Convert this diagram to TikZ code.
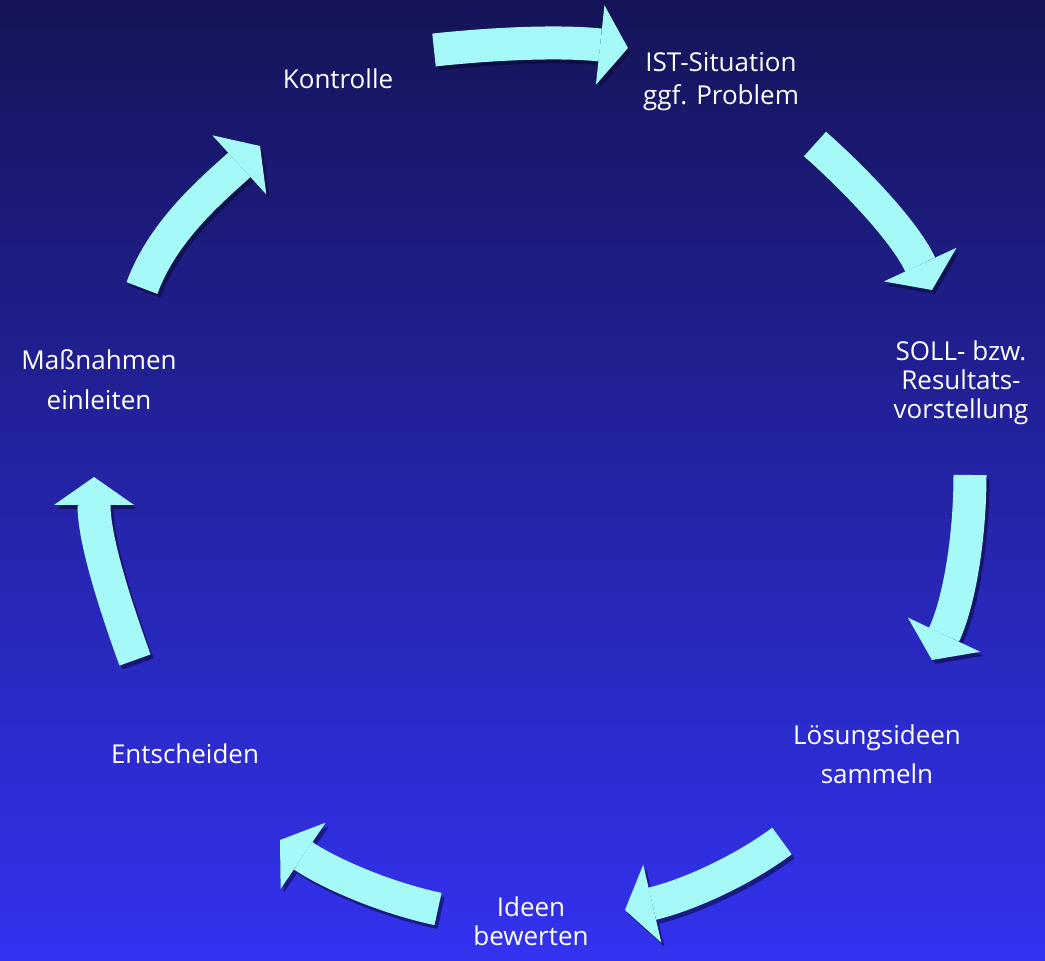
\documentclass[tikz,border=0pt]{standalone}
\usepackage{fontspec}
\setmainfont{Open Sans}
\usetikzlibrary{arrows.meta}
\definecolor{navytop}{RGB}{21,20,88}
\definecolor{bluebottom}{RGB}{51,50,240}
\definecolor{arrowcyan}{RGB}{165,250,248}
\definecolor{arrowshade}{RGB}{8,8,50}
\tikzset{
  cycarrow/.style={draw=arrowcyan, line width=16.5pt,
    -{Triangle[width=40pt,length=14pt,line width=0pt]}},
  cycshade/.style={cycarrow, draw=arrowshade, opacity=0.55},
  lbl/.style={text=white, align=center, anchor=base,
    font=\fontsize{13}{16.5}\selectfont}
}
\begin{document}
\begin{tikzpicture}[x=0.5pt, y=-0.5pt]
    \fill [top color=navytop, bottom color=bluebottom] (0, 0) rectangle (1045, 961);
    % curved block arrows of the cycle
    \foreach \i/\ta/\ca/\cb/\tp in {
      1/{434,50}/{499,43}/{563,41}/{628,48},
      2/{815,144}/{861,185}/{906,234}/{932,290},
      3/{970,475}/{970,538}/{959,603}/{932,660},
      4/{782,841}/{736,875}/{681,897}/{625,910},
      5/{438,909}/{382,897}/{327,872}/{280,840},
      6/{135,660}/{114,602}/{94,539}/{94,477},
      7/{142,288}/{163,230}/{214,188}/{260,146}}
    {
      \draw [cycshade, shift={(3, 4)}] (\ta) .. controls (\ca) and (\cb) .. (\tp);
      \draw [cycarrow] (\ta) .. controls (\ca) and (\cb) .. (\tp);
    }
    % steps (base = last line)
    \node [lbl] (kontrolle) at (338, 89) {Kontrolle};
    \node [lbl] (ist) at (721, 105) {IST-Situation\\ggf. Problem};
    \node [lbl, font=\fontsize{13}{14.5}\selectfont] (soll) at (961, 419) {SOLL- bzw.\\Resultats-\\vorstellung};
    \node [lbl, font=\fontsize{13}{19.5}\selectfont] (loesung) at (877, 784) {Lösungsideen\\sammeln};
    \node [lbl, font=\fontsize{13}{14.5}\selectfont] (ideen) at (531, 946) {Ideen\\bewerten};
    \node [lbl] (entscheiden) at (185, 764) {Entscheiden};
    \node [lbl, font=\fontsize{13}{20}\selectfont] (massnahmen) at (99, 410) {Maßnahmen\\einleiten};
\end{tikzpicture}
\end{document}
